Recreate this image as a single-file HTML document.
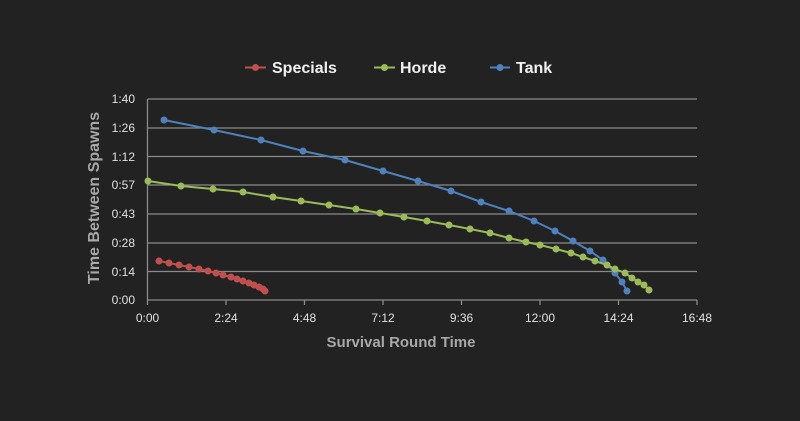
<!DOCTYPE html>
<html><head><meta charset="utf-8"><style>
html,body{margin:0;padding:0;background:#222222;}
svg{display:block;font-family:"Liberation Sans",sans-serif;}
</style></head><body>
<svg width="800" height="421" viewBox="0 0 800 421">
<rect width="800" height="421" fill="#222222"/>
<g stroke="#8a8a8a" stroke-width="1.3">
<line x1="147.5" y1="99" x2="697" y2="99"/>
<line x1="147.5" y1="128" x2="697" y2="128"/>
<line x1="147.5" y1="156.5" x2="697" y2="156.5"/>
<line x1="147.5" y1="185" x2="697" y2="185"/>
<line x1="147.5" y1="214" x2="697" y2="214"/>
<line x1="147.5" y1="243" x2="697" y2="243"/>
<line x1="147.5" y1="271.5" x2="697" y2="271.5"/>
<line x1="147.5" y1="300" x2="697" y2="300"/>
<line x1="147.5" y1="99" x2="147.5" y2="305"/>
<line x1="226" y1="300" x2="226" y2="305"/>
<line x1="304.5" y1="300" x2="304.5" y2="305"/>
<line x1="383" y1="300" x2="383" y2="305"/>
<line x1="461.5" y1="300" x2="461.5" y2="305"/>
<line x1="540" y1="300" x2="540" y2="305"/>
<line x1="618.5" y1="300" x2="618.5" y2="305"/>
<line x1="697" y1="300" x2="697" y2="305"/>
</g>
<g fill="#e0e0e0" font-size="12" text-anchor="end">
<text x="135" y="103">1:40</text><text x="135" y="132">1:26</text><text x="135" y="161">1:12</text><text x="135" y="189">0:57</text><text x="135" y="218">0:43</text><text x="135" y="247">0:28</text><text x="135" y="276">0:14</text><text x="135" y="304">0:00</text>
</g>
<g fill="#e0e0e0" font-size="12" text-anchor="middle">
<text x="147.5" y="322">0:00</text><text x="226" y="322">2:24</text><text x="304.5" y="322">4:48</text><text x="383" y="322">7:12</text><text x="461.5" y="322">9:36</text><text x="540" y="322">12:00</text><text x="618.5" y="322">14:24</text><text x="697" y="322">16:48</text>
</g>
<text x="401" y="347" fill="#a8a8a8" font-size="15" font-weight="bold" text-anchor="middle">Survival Round Time</text>
<text transform="translate(99,198) rotate(-90)" fill="#a8a8a8" font-size="16" font-weight="bold" text-anchor="middle">Time Between Spawns</text>
<g stroke="#4f81bd" fill="#4f81bd">
<polyline fill="none" stroke-width="2" points="164,120 214,130 261,140 303,151 345,160 383,171 418,181 451,191 481,202 509,211 534,221 555,231 573,241 590,251 603,260 615,273 622,282 627,291"/>
<g stroke="none">
<circle cx="164" cy="120" r="3.5"/><circle cx="214" cy="130" r="3.5"/><circle cx="261" cy="140" r="3.5"/><circle cx="303" cy="151" r="3.5"/><circle cx="345" cy="160" r="3.5"/><circle cx="383" cy="171" r="3.5"/><circle cx="418" cy="181" r="3.5"/><circle cx="451" cy="191" r="3.5"/><circle cx="481" cy="202" r="3.5"/><circle cx="509" cy="211" r="3.5"/><circle cx="534" cy="221" r="3.5"/><circle cx="555" cy="231" r="3.5"/><circle cx="573" cy="241" r="3.5"/><circle cx="590" cy="251" r="3.5"/><circle cx="603" cy="260" r="3.5"/><circle cx="615" cy="273" r="3.5"/><circle cx="622" cy="282" r="3.5"/><circle cx="627" cy="291" r="3.5"/>
</g></g>
<g stroke="#9bbb59" fill="#9bbb59">
<polyline fill="none" stroke-width="2" points="148,181 181,186 213,189 243,192 273,197 301,201 329,205 356,209 380,213 404,217 427,221 449,225 470,229 490,233 509,238 526,242 540,245 556,249 571,253 583,257 595,261 607,265 615,269 625,273 632,278 638,282 644,285 649,290"/>
<g stroke="none">
<circle cx="148" cy="181" r="3.5"/><circle cx="181" cy="186" r="3.5"/><circle cx="213" cy="189" r="3.5"/><circle cx="243" cy="192" r="3.5"/><circle cx="273" cy="197" r="3.5"/><circle cx="301" cy="201" r="3.5"/><circle cx="329" cy="205" r="3.5"/><circle cx="356" cy="209" r="3.5"/><circle cx="380" cy="213" r="3.5"/><circle cx="404" cy="217" r="3.5"/><circle cx="427" cy="221" r="3.5"/><circle cx="449" cy="225" r="3.5"/><circle cx="470" cy="229" r="3.5"/><circle cx="490" cy="233" r="3.5"/><circle cx="509" cy="238" r="3.5"/><circle cx="526" cy="242" r="3.5"/><circle cx="540" cy="245" r="3.5"/><circle cx="556" cy="249" r="3.5"/><circle cx="571" cy="253" r="3.5"/><circle cx="583" cy="257" r="3.5"/><circle cx="595" cy="261" r="3.5"/><circle cx="607" cy="265" r="3.5"/><circle cx="615" cy="269" r="3.5"/><circle cx="625" cy="273" r="3.5"/><circle cx="632" cy="278" r="3.5"/><circle cx="638" cy="282" r="3.5"/><circle cx="644" cy="285" r="3.5"/><circle cx="649" cy="290" r="3.5"/>
</g></g>
<g stroke="#c0504d" fill="#c0504d">
<polyline fill="none" stroke-width="2" points="159,261 169,263 179,265 189,267 199,269 208,271 216,273 223,275 231,277 237,279 243,281 249,283 254,285 259,287 263,289 265,291"/>
<g stroke="none">
<circle cx="159" cy="261" r="3.5"/><circle cx="169" cy="263" r="3.5"/><circle cx="179" cy="265" r="3.5"/><circle cx="189" cy="267" r="3.5"/><circle cx="199" cy="269" r="3.5"/><circle cx="208" cy="271" r="3.5"/><circle cx="216" cy="273" r="3.5"/><circle cx="223" cy="275" r="3.5"/><circle cx="231" cy="277" r="3.5"/><circle cx="237" cy="279" r="3.5"/><circle cx="243" cy="281" r="3.5"/><circle cx="249" cy="283" r="3.5"/><circle cx="254" cy="285" r="3.5"/><circle cx="259" cy="287" r="3.5"/><circle cx="263" cy="289" r="3.5"/><circle cx="265" cy="291" r="3.5"/>
</g></g>
<g font-size="16" font-weight="bold" fill="#f0f0f0">
<line x1="245" y1="67.5" x2="266" y2="67.5" stroke="#c0504d" stroke-width="2"/><circle cx="255.5" cy="67.5" r="3.5" fill="#c0504d"/>
<text x="272" y="73">Specials</text>
<line x1="374" y1="67.5" x2="395" y2="67.5" stroke="#9bbb59" stroke-width="2"/><circle cx="384.5" cy="67.5" r="3.5" fill="#9bbb59"/>
<text x="400" y="73">Horde</text>
<line x1="490" y1="67.5" x2="510" y2="67.5" stroke="#4f81bd" stroke-width="2"/><circle cx="500" cy="67.5" r="3.5" fill="#4f81bd"/>
<text x="516" y="73">Tank</text>
</g>
</svg>
</body></html>
